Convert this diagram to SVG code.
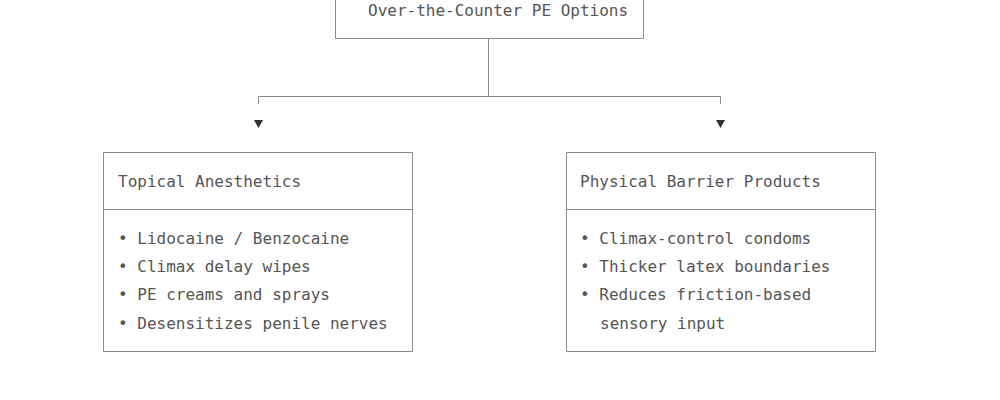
<svg xmlns="http://www.w3.org/2000/svg" width="1000" height="400" viewBox="0 0 1000 400">
<style>
.t{font-family:"DejaVu Sans Mono","Liberation Mono",monospace;font-size:16px;fill:#555}
.b{fill:none;stroke:#8a8a8a;stroke-width:1}
</style>
<rect width="1000" height="400" fill="#fff"/>
<g id="root">
<path class="b" d="M335.5,-5 V38.5 H643.5 V-5"/>
<text class="t" x="368" y="16">Over-the-Counter PE Options</text>
</g>
<g id="connectors">
<path class="b" d="M488.5,38 V96 M258.5,104 V96.5 H720.5 V104"/>
<path d="M254,120 h9 l-4.5,8 z M716,120 h9 l-4.5,8 z" fill="#333"/>
</g>
<g id="topical">
<path class="b" d="M103.5,152.5 H412.5 V351.5 H103.5 Z M103.5,209.5 H412.5"/>
<text class="t" x="118" y="187">Topical Anesthetics</text>
<text class="t" x="118" y="244">• Lidocaine / Benzocaine</text>
<text class="t" x="118" y="272">• Climax delay wipes</text>
<text class="t" x="118" y="300">• PE creams and sprays</text>
<text class="t" x="118" y="329">• Desensitizes penile nerves</text>
</g>
<g id="barrier">
<path class="b" d="M566.5,152.5 H875.5 V351.5 H566.5 Z M566.5,209.5 H875.5"/>
<text class="t" x="580" y="187">Physical Barrier Products</text>
<text class="t" x="580" y="244">• Climax-control condoms</text>
<text class="t" x="580" y="272">• Thicker latex boundaries</text>
<text class="t" x="580" y="300">• Reduces friction-based</text>
<text class="t" x="600" y="329">sensory input</text>
</g>
</svg>
